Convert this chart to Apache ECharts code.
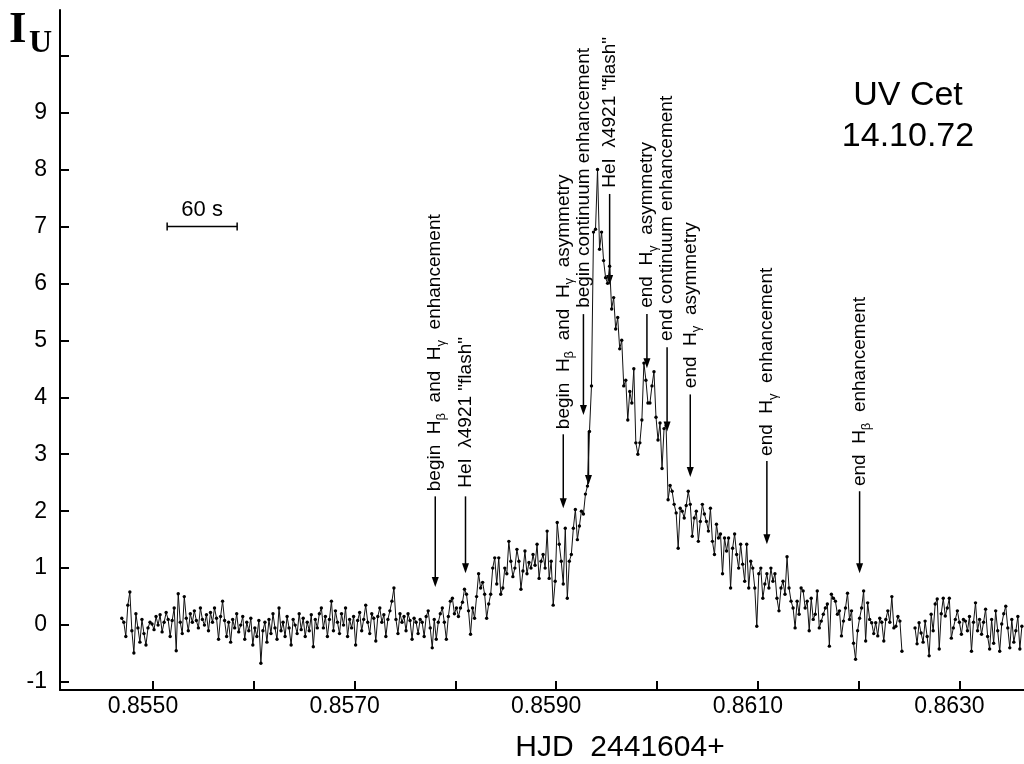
<!DOCTYPE html>
<html>
<head>
<meta charset="utf-8">
<script src="https://cdn.jsdelivr.net/npm/echarts@6/dist/echarts.min.js"></script>
<style>html,body{margin:0;padding:0;background:#fff}#c{width:1024px;height:764px}</style>
</head>
<body>
<div id="c"></div>
<script>
// ---------- data ----------
const sampleStep = 0.00002; // days between photometric samples
const seg1Start = 0.85469;
const seg1Values = [
0.12,0.05,-0.20,0.35,0.58,-0.10,-0.49,0.20,-0.05,-0.30,
0.10,-0.15,-0.35,-0.05,0.05,0.02,-0.08,0.15,0.00,0.18,
-0.12,0.05,0.22,0.10,-0.20,0.08,0.30,-0.45,0.55,0.05,
-0.15,0.50,0.12,-0.10,0.20,0.05,0.25,0.08,-0.05,0.30,
0.10,0.00,0.18,-0.10,0.22,0.05,0.30,0.12,-0.25,0.15,
0.42,0.08,-0.20,0.05,-0.30,0.10,-0.05,0.20,-0.12,0.00,
0.15,-0.25,0.05,-0.10,0.12,-0.35,-0.05,-0.20,0.08,-0.67,
-0.10,0.05,-0.30,0.10,-0.15,0.20,-0.05,-0.25,0.30,-0.10,
0.05,-0.20,0.15,-0.05,-0.35,0.10,0.00,-0.15,0.20,-0.08,
0.12,-0.20,0.05,-0.10,0.18,-0.38,0.10,-0.05,0.20,0.30,
-0.05,0.15,-0.20,0.10,0.42,-0.10,0.25,0.05,-0.15,0.20,
0.00,0.30,-0.20,0.10,-0.05,0.15,-0.35,0.08,0.22,-0.10,
0.10,0.35,0.05,-0.15,0.20,0.12,-0.28,0.15,0.30,0.05,
0.18,-0.20,0.10,0.25,0.42,0.65,0.10,-0.15,0.20,0.05,
0.15,-0.10,0.20,0.08,-0.25,0.12,0.05,-0.15,0.10,
0.05,-0.20,0.15,0.25,-0.05,-0.40,0.10,-0.25,0.05,0.20,
0.30,0.05,-0.25,0.15,0.42,0.47,0.20,0.30,0.15,0.30,
0.40,0.63,0.54,0.25,-0.16,0.30,0.12,0.50,0.90,0.65,
0.75,0.54,0.12,0.37,0.54,1.00,1.18,0.72,1.18,0.54,
0.65,1.00,0.90,1.47,1.12,0.85,1.00,1.33,1.12,0.63,
0.95,1.30,0.90,1.10,1.00,1.24,1.05,1.42,0.82,1.12,
1.24,1.00,1.65,0.82,1.12,0.35,0.77,1.80,1.42,1.12,
0.72,1.70,0.47,1.12,1.24,1.70,2.03,1.50,1.74,2.00,
1.95,2.30,2.44,3.40,4.20,6.90,6.95,8.00,6.60,6.90,
6.40,6.10,6.00,6.30,5.55,5.75,5.20,5.40,4.85,5.00,
4.20,4.30,3.60,4.10,3.90,4.50,3.20,3.00,3.20,3.60,
4.60,4.30,3.90,3.90,4.20,4.45,3.65,3.25,3.55,2.75,
3.45,3.50,2.20,2.45,2.35,2.12,1.97,1.35,2.05,2.00,
1.88,2.10,2.35,2.12,1.56,1.88,2.00,1.47,1.82,2.12,
1.95,1.82,1.65,2.05,1.47,1.24,1.77,1.53,1.60,0.90,
1.53,1.30,1.53,0.65,1.35,1.60,1.24,1.00,1.42,1.07,
0.77,1.42,0.65,1.12,1.00,0.65,-0.02,0.90,1.00,0.47,
0.72,0.90,0.65,1.00,0.77,0.90,0.47,0.25,0.65,0.77,
0.54,1.20,0.65,0.42,0.30,-0.05,0.42,0.19,0.65,0.60,
0.30,0.42,-0.10,0.47,0.10,0.19,0.60,-0.05,0.07,0.19,
0.30,0.37,-0.37,0.54,0.47,0.42,0.19,0.25,-0.19,0.07,
0.30,0.56,0.10,0.25,-0.32,-0.60,-0.10,0.12,0.30,0.60,
-0.28,0.39,0.10,0.04,-0.15,0.04,-0.19,0.12,0.05,-0.28,
0.10,0.25,0.05,0.50,-0.05,-0.02,0.15,0.07,-0.46
];
const seg2Start = 0.86256;
const seg2Values = [
-0.05,-0.33,0.04,-0.14,-0.30,0.07,-0.20,-0.54,0.19,-0.10,
0.37,0.46,-0.42,0.20,0.47,0.16,0.30,0.47,-0.23,-0.05,
0.10,0.25,0.05,-0.16,0.10,0.07,-0.10,0.15,-0.46,0.05,
0.39,-0.10,0.10,-0.16,0.05,0.28,-0.20,-0.42,0.10,-0.32,
0.25,-0.10,-0.46,0.02,0.20,0.33,-0.05,-0.40,0.10,-0.30,
-0.10,0.15,-0.42,-0.02
];
const xTickValues = [0.855,0.856,0.857,0.858,0.859,0.860,0.861,0.862,0.863];
const xLabelValues = [0.855,0.857,0.859,0.861,0.863];
const yTickValues = [-1,0,1,2,3,4,5,6,7,8,9,10];
const yLabelValues = [-1,0,1,2,3,4,5,6,7,8,9];

const annotationTexts = [
  'begin  H{s|β}  and  H{s|γ}  enhancement',
  'HeI  λ4921 "flash"',
  'begin  H{s|β}  and  H{s|γ}  asymmetry',
  'begin continuum enhancement',
  'HeI  λ4921 "flash"',
  'end  H{s|γ}  asymmetry',
  'end continuum enhancement',
  'end  H{s|γ}  asymmetry',
  'end  H{s|γ}  enhancement',
  'end  H{s|β}  enhancement'
];
const annotationTimes     = [0.85780,0.85810,0.85907,0.85927,0.85953,0.85990,0.86010,0.86033,0.86109,0.86201];
const annotationLabelBase = [2.35,2.41,3.44,5.57,7.68,5.57,4.99,4.16,2.97,2.44];
const annotationArrowFrom = [2.26,2.26,3.35,5.46,7.57,5.46,4.88,4.05,2.88,2.35];
const annotationArrowTo   = [0.67,0.91,2.05,3.69,5.97,4.51,3.40,2.60,1.42,0.91];
const extraArrow = {time:0.85932, from:3.40, to:2.46};

const scaleBarStart = 0.85514;
const scaleBarSeconds = 60;
const scaleBarLevel = 7.0;

// ---------- chart ----------
const FONT = 'Liberation Sans, Arial, sans-serif';
function buildSeg(start, vals){ return vals.map((v,i)=>[start + i*sampleStep, v]); }

const seriesStyle = {
  type:'line', showSymbol:true, showAllSymbol:true, symbol:'circle', symbolSize:3.4,
  itemStyle:{color:'#000'}, lineStyle:{color:'#111', width:1},
  emphasis:{disabled:true}, animation:false, silent:true
};

const chart = echarts.init(document.getElementById('c'), null, {renderer:'canvas'});
chart.setOption({
  animation:false,
  backgroundColor:'#fff',
  textStyle:{fontFamily:FONT},
  grid:{left:60, right:0, top:10, bottom:74, containLabel:false, outerBoundsMode:'none'},
  xAxis:{
    type:'value', min:0.854077, max:0.863641,
    axisLine:{show:true, onZero:false, lineStyle:{color:'#000', width:2}},
    axisTick:{show:true, inside:true, length:9, customValues:xTickValues, lineStyle:{color:'#000', width:2}},
    axisLabel:{show:true, customValues:xLabelValues, margin:5, fontSize:23, color:'#000', fontFamily:FONT,
      padding:[0,20,0,0], formatter:v=>Number(v).toFixed(4)},
    splitLine:{show:false}
  },
  yAxis:{
    type:'value', min:-1.14, max:10.8,
    axisLine:{show:true, onZero:false, lineStyle:{color:'#000', width:2}},
    axisTick:{show:true, inside:true, length:9, customValues:yTickValues, lineStyle:{color:'#000', width:2}},
    axisLabel:{show:true, customValues:yLabelValues, margin:13, fontSize:23, color:'#000', fontFamily:FONT,
      formatter:v=>String(Math.round(v))},
    splitLine:{show:false}
  },
  series:[
    Object.assign({data:buildSeg(seg1Start, seg1Values)}, seriesStyle),
    Object.assign({data:buildSeg(seg2Start, seg2Values)}, seriesStyle)
  ]
});

function px(t, v){ return chart.convertToPixel({gridIndex:0}, [t, v]); }
const g = [];
function arrow(t, vFrom, vTo){
  const a = px(t, vFrom), b = px(t, vTo);
  g.push({type:'line', silent:true, shape:{x1:a[0], y1:a[1], x2:b[0], y2:b[1]-6}, style:{stroke:'#000', lineWidth:1.5}});
  g.push({type:'polygon', silent:true, shape:{points:[[b[0]-3.5,b[1]-10],[b[0]+3.5,b[1]-10],[b[0],b[1]]]}, style:{fill:'#000'}});
}
annotationTexts.forEach((txt, k)=>{
  const base = px(annotationTimes[k], annotationLabelBase[k]);
  g.push({type:'text', silent:true, x:base[0], y:base[1], rotation:Math.PI/2,
    style:{text:txt, fontSize:19, fontFamily:FONT, fill:'#000', align:'left', verticalAlign:'middle', lineHeight:26,
      rich:{s:{fontSize:13, fontFamily:FONT, fill:'#000', verticalAlign:'bottom', lineHeight:13}}}});
  arrow(annotationTimes[k], annotationArrowFrom[k], annotationArrowTo[k]);
});
arrow(extraArrow.time, extraArrow.from, extraArrow.to);

// 60 s scale bar
const sb1 = px(scaleBarStart, scaleBarLevel);
const sb2 = px(scaleBarStart + scaleBarSeconds/86400, scaleBarLevel);
g.push({type:'line', silent:true, shape:{x1:sb1[0], y1:sb1[1], x2:sb2[0], y2:sb2[1]}, style:{stroke:'#000', lineWidth:1.5}});
g.push({type:'line', silent:true, shape:{x1:sb1[0], y1:sb1[1]-4, x2:sb1[0], y2:sb1[1]+4}, style:{stroke:'#000', lineWidth:1.5}});
g.push({type:'line', silent:true, shape:{x1:sb2[0], y1:sb2[1]-4, x2:sb2[0], y2:sb2[1]+4}, style:{stroke:'#000', lineWidth:1.5}});
g.push({type:'text', silent:true, x:(sb1[0]+sb2[0])/2, y:sb1[1]-5,
  style:{text:scaleBarSeconds + ' s', fontSize:22, fontFamily:FONT, fill:'#000', align:'center', verticalAlign:'bottom'}});

// titles
g.push({type:'text', silent:true, x:908, y:96, style:{text:'UV Cet', fontSize:34, fontFamily:FONT, fill:'#000', align:'center', verticalAlign:'middle'}});
g.push({type:'text', silent:true, x:908, y:137, style:{text:'14.10.72', fontSize:34, fontFamily:FONT, fill:'#000', align:'center', verticalAlign:'middle'}});
g.push({type:'text', silent:true, x:620, y:748, style:{text:'HJD  2441604+', fontSize:30, fontFamily:FONT, fill:'#000', align:'center', verticalAlign:'middle'}});
g.push({type:'text', silent:true, x:9, y:30, style:{text:'I', fontSize:45, fontWeight:'bold', fontFamily:'Liberation Serif, serif', fill:'#000', align:'left', verticalAlign:'middle'}});
g.push({type:'text', silent:true, x:29, y:44, style:{text:'U', fontSize:32, fontWeight:'bold', fontFamily:'Liberation Serif, serif', fill:'#000', align:'left', verticalAlign:'middle'}});

chart.setOption({graphic:g});
</script>
</body>
</html>
